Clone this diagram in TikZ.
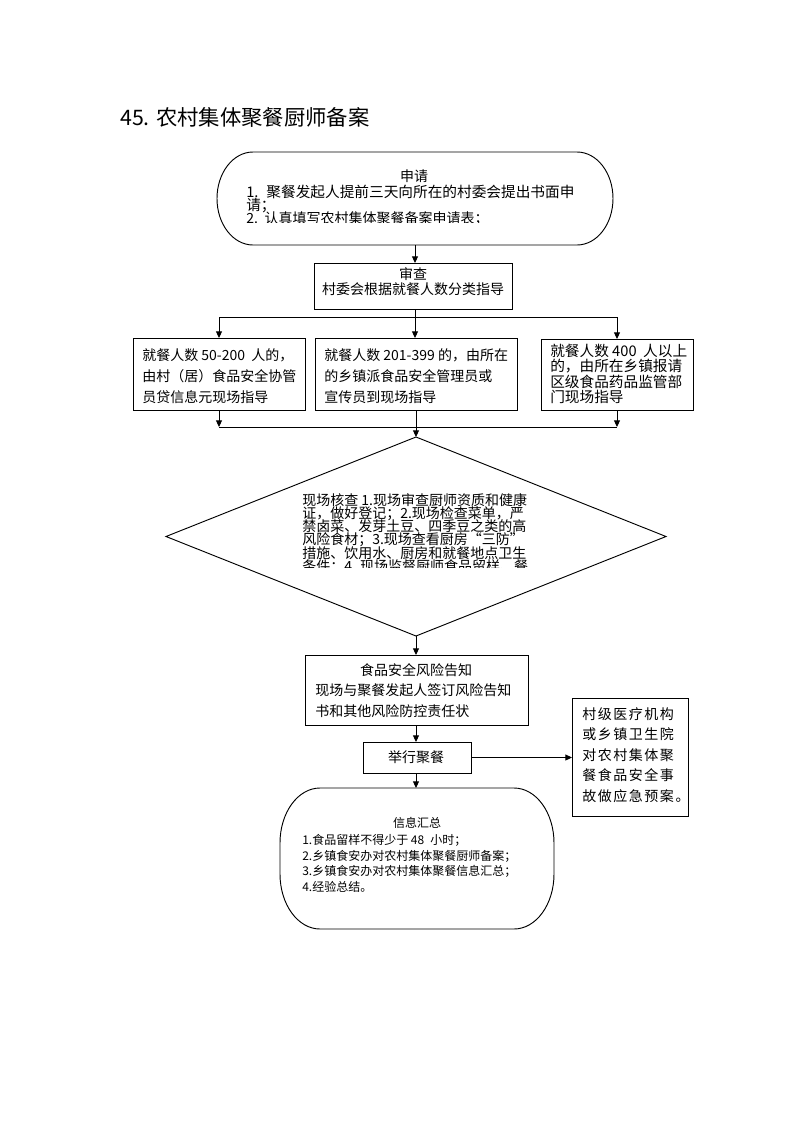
\documentclass[tikz,border=0pt]{standalone}
\usepackage{fontspec}
\setmainfont{Noto Sans CJK SC}
\newfontfamily\hospfont[LetterSpace=11]{Noto Sans CJK SC}
\usetikzlibrary{arrows.meta}
\newcommand\szT{\fontsize{16}{18}\selectfont}
\newcommand\szA{\fontsize{10.5}{12}\selectfont}
\newcommand\szB{\fontsize{11}{12}\selectfont}
\newcommand\szC{\fontsize{9}{11}\selectfont}
\newcommand\mybox[5]{\node[boxst, minimum width={(#4-#2)*0.75pt}, minimum height={(#5-#3)*0.75pt}] (#1) at ({(#2+#4)/2},{(#3+#5)/2}) {};}
\tikzset{
  boxst/.style={draw, line width=0.7pt, inner sep=0pt, outer sep=0pt},
  shp/.style={draw, line width=0.7pt},
  conn/.style={line width=0.7pt},
  arr/.style={line width=0.7pt, -{Triangle[length=5pt,width=4.5pt]}},
  tl/.style={inner sep=0pt, anchor=west},
  tc/.style={inner sep=0pt, anchor=center}
}
\begin{document}
\begin{tikzpicture}[x=0.75pt,y=-0.75pt]
\useasboundingbox[fill=white] (0,0) rectangle (793,1122);

% title
\node[tl, font=\szT] (title) at (120,117.5) {45. 农村集体聚餐厨师备案};

% top stadium
\draw[shp] (253,152) -- (577,152) .. controls (596.9,152) and (613,172.8) .. (613,198.5)
  .. controls (613,224.2) and (596.9,245) .. (577,245) -- (253,245)
  .. controls (233.1,245) and (217,224.2) .. (217,198.5)
  .. controls (217,172.8) and (233.1,152) .. (253,152) -- cycle;
\coordinate (s1b) at (415,245);
\node[tc, font=\szA] (s1t0) at (414,176.5) {申请};
\begin{scope}
\clip (220,150) rectangle (610,222.5);
\node[tl, font=\szB] (s1t1) at (246,191.5) {1.\hspace{6pt}聚餐发起人提前三天向所在的村委会提出书面申};
\node[tl, font=\szB] (s1t2) at (246,205.5) {请；};
\node[tl, font=\szA] (s1t3) at (246,219) {2.\hspace{5pt}认真填写农村集体聚餐备案申请表；};
\end{scope}

% review box
\mybox{shencha}{314}{263}{512}{309}
\node[tc, font=\szA] (sc1) at (413,274.5) {审查};
\node[tc, font=\szA] (sc2) at (413,289.5) {村委会根据就餐人数分类指导};

% three boxes
\mybox{b1}{133}{338}{305}{410}
\mybox{b2}{315}{338}{517}{410}
\mybox{b3}{541}{339}{693}{410}
\node[tl, font=\szA] (b1a) at (142,355) {就餐人数 50-200\ \ 人的，};
\node[tl, font=\szA] (b1b) at (142,376) {由村（居）食品安全协管};
\node[tl, font=\szA] (b1c) at (142,397) {员贷信息元现场指导};
\node[tl, font=\szA] (b2a) at (324,355) {就餐人数 201-399 的，由所在};
\node[tl, font=\szA] (b2b) at (324,376) {的乡镇派食品安全管理员或};
\node[tl, font=\szA] (b2c) at (324,397) {宣传员到现场指导};
\node[tl, font=\szB] (b3a) at (550,351) {就餐人数 400\ \ 人以上};
\node[tl, font=\szB] (b3b) at (550,366.5) {的，由所在乡镇报请};
\node[tl, font=\szB] (b3c) at (550,382) {区级食品药品监管部};
\node[tl, font=\szB] (b3d) at (550,397) {门现场指导};

% diamond
\draw[shp] (416,437) -- (666,536.5) -- (416,636) -- (166,536.5) -- cycle;
\coordinate (dtop) at (416,437);
\coordinate (dbot) at (416,636);
\begin{scope}
\clip (290,480) rectangle (545,567);
\node[tl, font=\szA] (d1) at (302,500) {现场核查 1.现场审查厨师资质和健康};
\node[tl, font=\szA] (d2) at (302,513.3) {证，做好登记；2.现场检查菜单，严};
\node[tl, font=\szA] (d3) at (302,526.6) {禁卤菜、发芽土豆、四季豆之类的高};
\node[tl, font=\szA] (d4) at (302,540) {风险食材；3.现场查看厨房“三防”};
\node[tl, font=\szA] (d5) at (302,553.3) {措施、饮用水、厨房和就餐地点卫生};
\node[tl, font=\szA] (d6) at (302,566.6) {条件；4. 现场监督厨师食品留样、餐};
\end{scope}

% risk box
\mybox{risk}{305}{655}{528}{725}
\node[tc, font=\szA] (r1) at (416,670) {食品安全风险告知};
\node[tl, font=\szA] (r2) at (315,690) {现场与聚餐发起人签订风险告知};
\node[tl, font=\szA] (r3) at (315,711.5) {书和其他风险防控责任状};

% meal box
\mybox{meal}{363}{742}{471}{773}
\node[tc, font=\szA] (m1) at (416,757.5) {举行聚餐};

% hospital box
\mybox{hosp}{572}{698}{688}{816}
\node[tl, font=\szA\hospfont] (h1) at (582,714) {村级医疗机构};
\node[tl, font=\szA\hospfont] (h2) at (582,734.5) {或乡镇卫生院};
\node[tl, font=\szA\hospfont] (h3) at (582,755) {对农村集体聚};
\node[tl, font=\szA\hospfont] (h4) at (582,775.5) {餐食品安全事};
\node[tl, font=\szA\hospfont] (h5) at (582,796) {故做应急预案。};

% bottom stadium
\draw[shp] (320,788) -- (514,788) .. controls (536.1,788) and (554,812.6) .. (554,843) -- (554,874)
  .. controls (554,904.4) and (536.1,929) .. (514,929) -- (320,929)
  .. controls (297.9,929) and (280,904.4) .. (280,874) -- (280,843)
  .. controls (280,812.6) and (297.9,788) .. (320,788) -- cycle;
\coordinate (s2t) at (417,788);
\node[tc, font=\szC] (i0) at (417,823) {信息汇总};
\node[tl, font=\szC] (i1) at (302,840) {1.食品留样不得少于 48\enspace 小时；};
\node[tl, font=\szC] (i2) at (302,856) {2.乡镇食安办对农村集体聚餐厨师备案；};
\node[tl, font=\szC] (i3) at (302,871.5) {3.乡镇食安办对农村集体聚餐信息汇总；};
\node[tl, font=\szC] (i4) at (302,887) {4.经验总结。};

% connectors
\draw[arr] (s1b) -- (s1b |- shencha.north);
\coordinate (j1) at (415,317);
\draw[conn] (shencha.south -| j1) -- (j1);
\draw[conn] (j1 -| b1) -- (j1 -| b3);
\draw[arr] (j1) -- (j1 |- b2.north);
\draw[arr] (j1 -| b1) -- (b1.north);
\draw[arr] (j1 -| b3) -- (b3.north);
\coordinate (j2) at (415,427);
\draw[arr] (b1.south) -- (j2 -| b1);
\draw[arr] (b3.south) -- (j2 -| b3);
\draw[conn] (j2 -| b1) -- (j2 -| b3);
\draw[arr] (b2.south -| dtop) -- (dtop);
\draw[arr] (dbot) -- (dbot |- risk.north);
\draw[arr] (risk.south -| dbot) -- (dbot |- meal.north);
\draw[arr] (meal.east) -- (meal.east -| hosp.west);
\draw[arr] (meal.south -| dbot) -- (dbot |- s2t);
\end{tikzpicture}
\end{document}
